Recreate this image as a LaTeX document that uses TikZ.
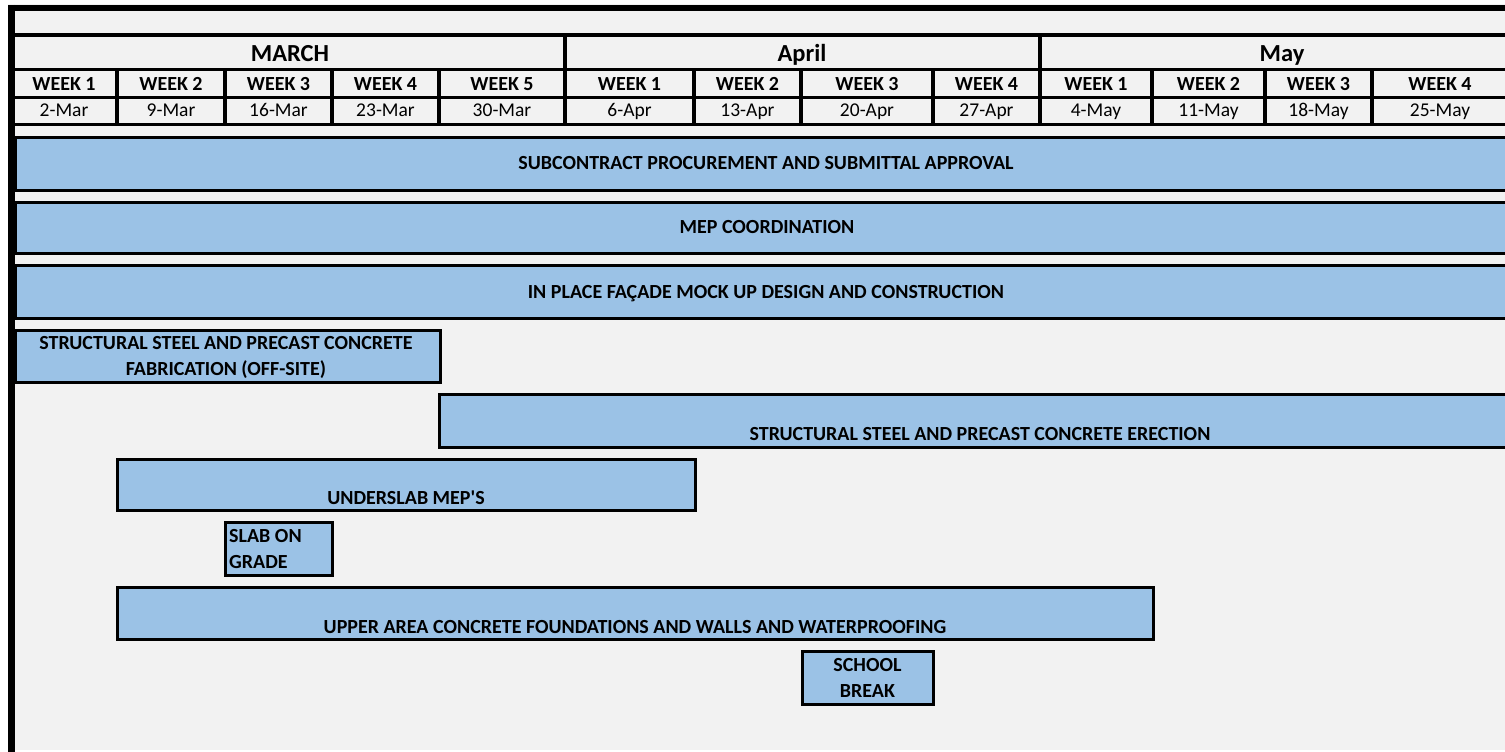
\documentclass[tikz,border=0pt]{standalone}
\usepackage{fontspec}
\setmainfont{Carlito}[Ligatures=TeXOff]
\definecolor{barblue}{HTML}{9BC2E6}
\definecolor{bggray}{HTML}{F2F2F2}
\tikzset{
  bar/.style={draw=black, line width=3pt, fill=barblue},
  lbl/.style={font=\fontsize{20}{26}\selectfont\bfseries, inner sep=0pt},
  wk/.style={font=\fontsize{20}{22}\selectfont\bfseries, inner sep=0pt, anchor=base},
  dt/.style={font=\fontsize{19.5}{22}\selectfont, inner sep=0pt, anchor=base},
  mon/.style={font=\fontsize{24.5}{28}\selectfont\bfseries, inner sep=0pt, anchor=base},
  gridline/.style={draw=black, line width=3.5pt},
}
\begin{document}
\begin{tikzpicture}[x=1pt,y=-1pt]
\useasboundingbox (0,0) rectangle (1505,752);
\clip (0,0) rectangle (1505,752);
\fill[white] (0,0) rectangle (1505,752);
\fill[bggray] (8,4) rectangle (1510,750);
% header lines
\draw[black, line width=6pt] (8,8) -- (1510,8);
\draw[black, line width=4pt] (15,35) -- (1510,35);
\draw[gridline] (15,69.5) -- (1510,69.5);
\draw[gridline] (15,97.5) -- (1510,97.5);
\draw[gridline] (15,124.5) -- (1510,124.5);
\foreach \x in {117,225,332,439,694,801,933,1152,1265,1372}
  \draw[gridline] (\x,69.5) -- (\x,124.5);
\foreach \x in {565,1040}
  \draw[black, line width=4pt] (\x,35) -- (\x,124.5);
% months
\node[mon] (m1) at (290,62) {MARCH};
\node[mon] (m2) at (802,62) {April};
\node[mon] (m3) at (1282,62) {May};
% weeks and dates
\foreach \c/\w/\d [count=\i] in {64/WEEK 1/2-Mar, 171/WEEK 2/9-Mar, 278.5/WEEK 3/16-Mar, 385.5/WEEK 4/23-Mar, 502/WEEK 5/30-Mar, 629.5/WEEK 1/6-Apr, 747.5/WEEK 2/13-Apr, 867/WEEK 3/20-Apr, 986.5/WEEK 4/27-Apr, 1096/WEEK 1/4-May, 1208.5/WEEK 2/11-May, 1318.5/WEEK 3/18-May, 1440/WEEK 4/25-May}{
  \node[wk] (w\i) at (\c,90.5) {\w};
  \node[dt] (d\i) at (\c,117) {\d};
}
% full-width bars
\draw[bar] (15,137) rectangle (1512,190);
\node[lbl, anchor=base] (t1) at (766,169) {SUBCONTRACT PROCUREMENT AND SUBMITTAL APPROVAL};
\draw[bar] (15,202) rectangle (1512,253);
\node[lbl, anchor=base] (t2) at (767,233) {MEP COORDINATION};
\draw[bar] (15,265) rectangle (1512,318);
\node[lbl, anchor=base] (t3) at (766,298.5) {IN PLACE FAÇADE MOCK UP DESIGN AND CONSTRUCTION};
% task bars
\draw[bar] (15,330) rectangle (440,382);
\node[lbl, anchor=base, align=center] (t4) at (226,375) {STRUCTURAL STEEL AND PRECAST CONCRETE\\FABRICATION (OFF-SITE)};
\draw[bar] (439.5,394) rectangle (1512,447);
\node[lbl, anchor=base] (t5) at (980,440.5) {STRUCTURAL STEEL AND PRECAST CONCRETE ERECTION};
\draw[bar] (117,459) rectangle (695,510);
\node[lbl, anchor=base] (t6) at (406,504) {UNDERSLAB MEP'S};
\draw[bar] (225,522.5) rectangle (332,575.5);
\node[lbl, anchor=base west, align=left] (t7) at (229,568) {SLAB ON\\GRADE};
\draw[bar] (117,587) rectangle (1153,639);
\node[lbl, anchor=base] (t8) at (635,633) {UPPER AREA CONCRETE FOUNDATIONS AND WALLS AND WATERPROOFING};
\draw[bar] (802,651.5) rectangle (933,704);
\node[lbl, anchor=base, align=center] (t9) at (867.5,697) {SCHOOL\\BREAK};
% left border
\draw[black, line width=6.7pt] (11.6,5) -- (11.6,752);
\end{tikzpicture}
\end{document}
